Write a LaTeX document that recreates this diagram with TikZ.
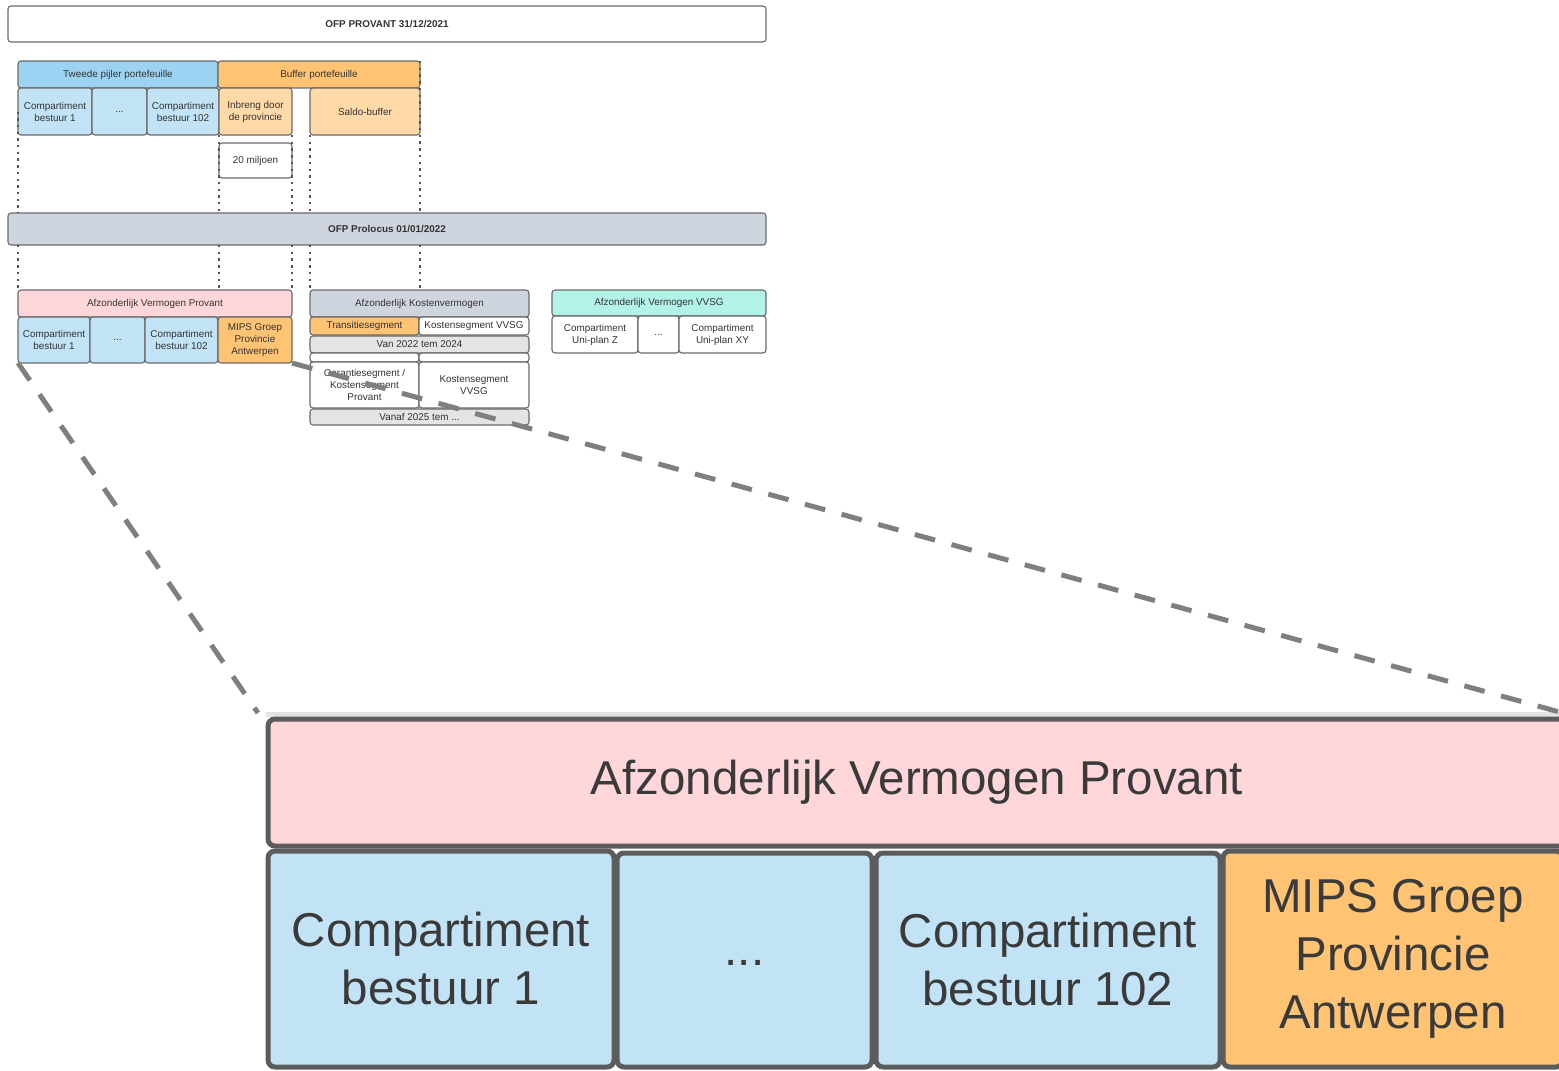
\documentclass[tikz,border=0pt]{standalone}
\usepackage{fontspec}
\setmainfont{Liberation Sans}
\definecolor{bordc}{HTML}{6A6A6A}
\definecolor{txtc}{HTML}{333333}
\definecolor{bigtxt}{HTML}{3A3A3A}
\definecolor{hblue}{HTML}{9DD3F2}
\definecolor{lblue}{HTML}{C1E3F5}
\definecolor{horange}{HTML}{FFC374}
\definecolor{lorange}{HTML}{FFDAA8}
\definecolor{pinkc}{HTML}{FFD7DA}
\definecolor{grayb}{HTML}{CFD5DE}
\definecolor{lgray}{HTML}{E4E4E4}
\definecolor{mint}{HTML}{B3F2E6}
\definecolor{dashc}{HTML}{7F7F7F}
\definecolor{dotc}{HTML}{555555}
\definecolor{bigbord}{HTML}{5C5C5C}
\newcommand\smallf{\fontsize{9.9}{12}\selectfont}
\newcommand\bigf{\fontsize{47.5}{58}\selectfont}
\newcommand\bxnode[7]{%
  \pgfmathsetmacro\bxw{#4-#2}\pgfmathsetmacro\bxh{#5-#3}%
  \node[#6, minimum width=\bxw pt, minimum height=\bxh pt, anchor=north west] (#1) at (#2,#3) {#7};}
\begin{document}
\begin{tikzpicture}[x=1pt,y=-1pt,
  bx/.style={draw=bordc, line width=1.1pt, rounded corners=3pt, inner sep=1pt, outer sep=0pt, align=center, text=txtc, font=\smallf},
  bigbx/.style={draw=bigbord, line width=5pt, rounded corners=7pt, inner sep=2pt, outer sep=0pt, align=center, text=bigtxt, font=\bigf},
  dotl/.style={draw=dotc, line width=2pt, dash pattern=on 2.4pt off 4.3pt},
  zoomln/.style={draw=dashc, line width=5pt, dash pattern=on 21pt off 17pt}]
\useasboundingbox (0,0) rectangle (1559,1071);

% top structure
\bxnode{title}{8}{6}{766}{42}{bx,fill=white,font=\smallf\bfseries}{OFP PROVANT 31/12/2021}
\bxnode{tw}{18}{61}{218}{88}{bx,fill=hblue}{Tweede pijler portefeuille}
\bxnode{buf}{218}{61}{420}{88}{bx,fill=horange}{Buffer portefeuille}
\bxnode{cb1}{18}{88}{92}{135}{bx,fill=lblue}{Compartiment\\bestuur 1}
\bxnode{cbd}{92}{88}{147}{135}{bx,fill=lblue}{...}
\bxnode{cb102}{147}{88}{219}{135}{bx,fill=lblue}{Compartiment\\bestuur 102}
\bxnode{inb}{219}{88}{292}{135}{bx,fill=lorange}{Inbreng door\\de provincie}
\bxnode{sal}{310}{88}{420}{135}{bx,fill=lorange}{Saldo-buffer}
\bxnode{mil}{219}{143}{292}{178}{bx,fill=white}{20 miljoen}

\bxnode{prol}{8}{213}{766}{245}{bx,fill=grayb,font=\smallf\bfseries}{OFP Prolocus 01/01/2022}

% Provant
\bxnode{avp}{18}{290}{292}{317}{bx,fill=pinkc}{Afzonderlijk Vermogen Provant}
\bxnode{pcb1}{18}{317}{90}{363}{bx,fill=lblue}{Compartiment\\bestuur 1}
\bxnode{pcbd}{90}{317}{145}{363}{bx,fill=lblue}{...}
\bxnode{pcb102}{145}{317}{218}{363}{bx,fill=lblue}{Compartiment\\bestuur 102}
\bxnode{mips}{218}{317}{292}{363}{bx,fill=horange}{MIPS Groep\\Provincie\\Antwerpen}

% Kostenvermogen
\bxnode{akv}{310}{290}{529}{317}{bx,fill=grayb}{Afzonderlijk Kostenvermogen}
\bxnode{trans}{310}{317}{419}{335}{bx,fill=horange}{Transitiesegment}
\bxnode{ksv1}{419}{317}{529}{335}{bx,fill=white}{Kostensegment VVSG}
\bxnode{van}{310}{336}{529}{353}{bx,fill=lgray}{Van 2022 tem 2024}
\bxnode{emp1}{310}{353}{419}{362}{bx,fill=white}{}
\bxnode{emp2}{419}{353}{529}{362}{bx,fill=white}{}
\bxnode{gar}{310}{362}{419}{408}{bx,fill=white}{Garantiesegment /\\Kostensegment\\Provant}
\bxnode{ksv2}{419}{362}{529}{408}{bx,fill=white}{Kostensegment\\VVSG}
\bxnode{vanaf}{310}{409}{529}{425}{bx,fill=lgray}{Vanaf 2025 tem ...}

% VVSG
\bxnode{avv}{552}{290}{766}{316}{bx,fill=mint}{Afzonderlijk Vermogen VVSG}
\bxnode{uz}{552}{316}{638}{353}{bx,fill=white}{Compartiment\\Uni-plan Z}
\bxnode{ud}{638}{316}{679}{353}{bx,fill=white}{...}
\bxnode{uxy}{679}{316}{766}{353}{bx,fill=white}{Compartiment\\Uni-plan XY}

% dotted flow lines
\draw[dotl] (cb1.west) -- (cb1.west |- prol.north);
\draw[dotl] (avp.north west |- prol.south) -- (avp.north west);
\draw[dotl] (inb.south west) -- (inb.south west |- prol.north);
\draw[dotl] (inb.south west |- prol.south) -- (inb.south west |- avp.north);
\draw[dotl] (inb.south east) -- (inb.south east |- prol.north);
\draw[dotl] (avp.north east |- prol.south) -- (avp.north east);
\draw[dotl] (sal.south west) -- (sal.south west |- prol.north);
\draw[dotl] (akv.north west |- prol.south) -- (akv.north west);
\draw[dotl] (buf.north east) -- (buf.north east |- prol.north);
\draw[dotl] (sal.south east |- prol.south) -- (sal.south east |- akv.north);

% zoomed view
\begin{scope}
\clip (0,0) rectangle (1559,1071);
\fill[gray!22] (266,712) rectangle (1575,717);
\bxnode{zavp}{268}{719}{1566}{846}{bigbx,fill=pinkc}{Afzonderlijk Vermogen Provant}
\bxnode{zcb1}{268}{851}{614}{1067}{bigbx,fill=lblue}{Compartiment\\bestuur 1}
\bxnode{zcbd}{617}{853}{872}{1067}{bigbx,fill=lblue}{\raisebox{-10pt}{...}}
\bxnode{zcb102}{876}{853}{1220}{1067}{bigbx,fill=lblue}{Compartiment\\bestuur 102}
\bxnode{zmips}{1223}{851}{1563}{1067}{bigbx,fill=horange}{MIPS Groep\\Provincie\\Antwerpen}
\coordinate (zTL) at (258,713);
\coordinate (zTR) at (1574,716);
\draw[zoomln] (pcb1.south west) -- (zTL);
\draw[zoomln] (mips.south east) -- (zTR);
\end{scope}
\end{tikzpicture}
\end{document}
